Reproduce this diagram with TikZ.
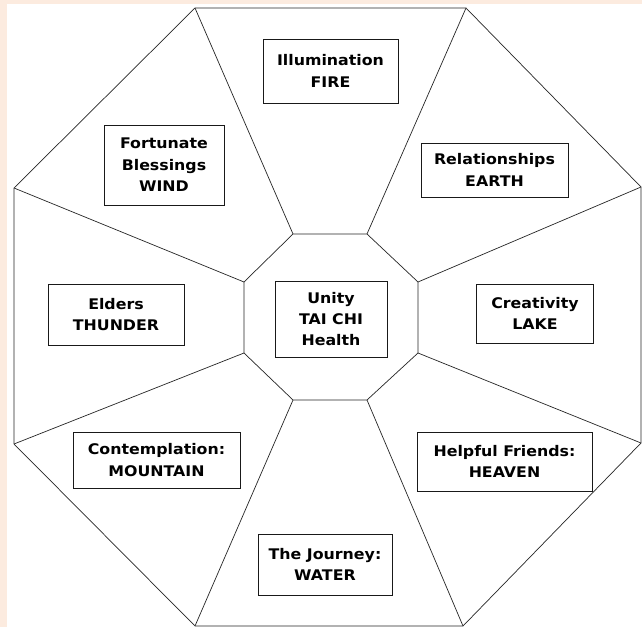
\documentclass[tikz,border=0pt]{standalone}
\usepackage{fontspec}
\setmainfont[FakeStretch=1.08]{DejaVu Sans}
\definecolor{peach}{RGB}{252,235,223}
\tikzset{
  rim/.style={black!85, line width=0.6pt},
  panel/.style={draw=black!90, line width=0.8pt, fill=white, align=center,
    font=\fontsize{12.5}{18.3}\selectfont\bfseries, inner sep=0pt}
}
\begin{document}
\begin{tikzpicture}[x=0.03cm, y=-0.03cm]
  % page and background
  \useasboundingbox (0,0) rectangle (642,627);
  \fill[peach] (0,0) rectangle (642,627);
  \fill[white] (7,4) rectangle (642,627);

  % outer ring
  \coordinate (o1) at (195,8);
  \coordinate (o2) at (466,8);
  \coordinate (o3) at (641,187);
  \coordinate (o4) at (641,443);
  \coordinate (o5) at (463,626);
  \coordinate (o6) at (195,626);
  \coordinate (o7) at (14,444);
  \coordinate (o8) at (14,188);
  % inner ring
  \coordinate (i1) at (293,234);
  \coordinate (i2) at (367,234);
  \coordinate (i3) at (418,282);
  \coordinate (i4) at (418,353);
  \coordinate (i5) at (367,400);
  \coordinate (i6) at (293,400);
  \coordinate (i7) at (244,353);
  \coordinate (i8) at (244,282);

  \draw[rim] (o1) -- (o2) -- (o3) -- (o4) -- (o5) -- (o6) -- (o7) -- (o8) -- cycle;
  \draw[rim] (i1) -- (i2) -- (i3) -- (i4) -- (i5) -- (i6) -- (i7) -- (i8) -- cycle;
  \foreach \k in {1,...,8}
    \draw[rim] (i\k) -- (o\k);

  % the nine boxes
  \node[panel, minimum width=4.05cm, minimum height=1.92cm] (fire) at (330.5,71) {Illumination\\FIRE};
  \node[panel, minimum width=4.41cm, minimum height=1.62cm] (earth) at (494.5,170) {Relationships\\EARTH};
  \node[panel, minimum width=3.60cm, minimum height=2.40cm] (wind) at (164,165) {Fortunate\\Blessings\\WIND};
  \node[panel, minimum width=4.08cm, minimum height=1.83cm] (thunder) at (116,314.5) {Elders\\THUNDER};
  \node[panel, minimum width=3.36cm, minimum height=2.28cm] (taichi) at (331,319) {Unity\\TAI CHI\\Health};
  \node[panel, minimum width=3.51cm, minimum height=1.77cm] (lake) at (535,313.5) {Creativity\\LAKE};
  \node[panel, minimum width=5.01cm, minimum height=1.68cm] (mountain) at (156.5,460) {Contemplation:\\MOUNTAIN};
  \node[panel, minimum width=5.25cm, minimum height=1.77cm] (heaven) at (504.5,461.5) {Helpful Friends:\\HEAVEN};
  \node[panel, minimum width=4.02cm, minimum height=1.83cm] (water) at (325,564.5) {The Journey:\\WATER};
\end{tikzpicture}
\end{document}
